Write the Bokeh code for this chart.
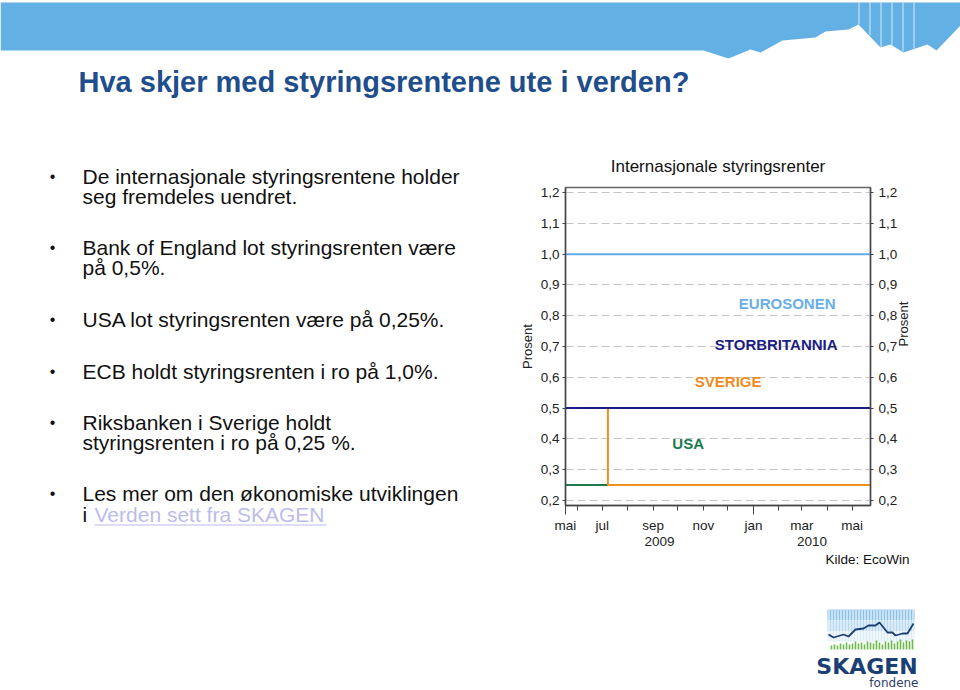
import math
import pandas as pd
from bokeh.plotting import figure
from bokeh.layouts import column, row
from bokeh.models import Range1d, LinearAxis, FixedTicker, Label, Grid
from bokeh.embed import file_html
from bokeh.resources import INLINE

# ---------------- data ----------------
start_date = "2009-05-17 10:00"
end_date = "2010-05-23 08:00"

euro_dates = [start_date, end_date]
euro_rate = [1.0, 1.0]
uk_dates = [start_date, end_date]
uk_rate = [0.5, 0.5]
usa_dates = [start_date, end_date]
usa_rate = [0.25, 0.25]
swe_dates = [start_date, "2009-07-08", end_date]
swe_rate = [0.5, 0.25, 0.25]

y_ticks = [0.2, 0.3, 0.4, 0.5, 0.6, 0.7, 0.8, 0.9, 1.0, 1.1, 1.2]
y_tick_labels = ["0,2", "0,3", "0,4", "0,5", "0,6", "0,7", "0,8", "0,9", "1,0", "1,1", "1,2"]

month_label_dates = [start_date, "2009-07-01", "2009-09-01", "2009-11-01",
                     "2010-01-01", "2010-03-01", "2010-05-01"]
month_labels = ["mai", "jul", "sep", "nov", "jan", "mar", "mai"]
month_tick_dates = ["2009-06-01", "2009-07-01", "2009-08-01", "2009-09-01", "2009-10-01",
                    "2009-11-01", "2009-12-01", "2010-02-01", "2010-03-01", "2010-04-01",
                    "2010-05-01"]
year_bounds = [start_date, "2010-01-01", end_date]
year_labels = ["2009", "2010"]

bullets = [
    ["De internasjonale styringsrentene holder", "seg fremdeles uendret."],
    ["Bank of England lot styringsrenten være", "på 0,5%."],
    ["USA lot styringsrenten være på 0,25%."],
    ["ECB holdt styringsrenten i ro på 1,0%."],
    ["Riksbanken i Sverige holdt", "styringsrenten i ro på 0,25 %."],
    ["Les mer om den økonomiske utviklingen", "i "],
]
link_text = "Verden sett fra SKAGEN"


def ms(d):
    return int(pd.Timestamp(d).value // 1_000_000)


FONT = "Liberation Sans"


def deco(x0, x1, y0, y1):
    """Plain figure whose frame fills the canvas; data units = slide pixels."""
    f = figure(width=x1 - x0, height=y1 - y0, x_axis_type=None, y_axis_type=None,
               toolbar_location=None, output_backend="svg",
               x_range=Range1d(x0, x1), y_range=Range1d(y1, y0), min_border=0)
    f.outline_line_color = None
    f.background_fill_color = "white"
    f.border_fill_color = "white"
    f.grid.visible = False
    return f


def lab(f, x, y, text, size, color="#111111", font=FONT, style="normal",
        align="left", angle=0.0):
    f.add_layout(Label(x=x, y=y, text=text, text_font=font, text_font_size=size,
                       text_color=color, text_font_style=style, text_align=align,
                       text_baseline="middle", angle=angle))


# ---------------- chart ----------------
CX0, CX1, CY0, CY1 = 515, 960, 140, 552
FL, FR, FT, FB = 565, 870, 187, 505

p = figure(width=CX1 - CX0, height=CY1 - CY0, x_axis_type=None, y_axis_type=None,
           toolbar_location=None, output_backend="svg",
           x_range=Range1d(ms(start_date), ms(end_date)),
           y_range=Range1d(0.183, 1.217),
           min_border_left=FL - CX0, min_border_right=CX1 - FR,
           min_border_top=FT - CY0, min_border_bottom=CY1 - FB,
           title="Internasjonale styringsrenter")
p.outline_line_color = "#666666"
p.outline_line_width = 1.3
p.background_fill_color = "white"
p.border_fill_color = "white"
p.title.align = "center"
p.title.text_font = FONT
p.title.text_font_size = "17px"
p.title.text_font_style = "normal"
p.title.text_color = "#111111"
p.title.standoff = 24

AX = "#444444"


def style_y(ax):
    ax.axis_line_color = AX
    ax.axis_line_width = 1.5
    ax.major_tick_line_color = AX
    ax.major_tick_out = 3
    ax.major_tick_in = 0
    ax.minor_tick_line_color = None
    ax.major_label_text_font = FONT
    ax.major_label_text_font_size = "13.5px"
    ax.major_label_text_color = "#222222"
    ax.major_label_standoff = 3
    ax.axis_label = "Prosent"
    ax.axis_label_text_font = FONT
    ax.axis_label_text_font_size = "13px"
    ax.axis_label_text_font_style = "normal"
    ax.axis_label_text_color = "#222222"
    ax.axis_label_standoff = 3


y_over = dict(zip(y_ticks, y_tick_labels))
yl = LinearAxis(ticker=FixedTicker(ticks=y_ticks), major_label_overrides=y_over)
style_y(yl)
p.add_layout(yl, "left")
yr = LinearAxis(ticker=FixedTicker(ticks=y_ticks), major_label_overrides=y_over)
style_y(yr)
yr.major_label_standoff = 5
yr.axis_label_standoff = 3
if "axis_label_orientation" in yr.properties():
    yr.axis_label_orientation = math.pi / 2
p.add_layout(yr, "right")

# x axis 1: axis line, long ticks at year boundaries, short monthly ticks
yb = [ms(d) for d in year_bounds]
x_tick_minor = [ms(d) for d in month_tick_dates]
xa = LinearAxis(ticker=FixedTicker(ticks=yb[:2], minor_ticks=x_tick_minor),
                major_label_overrides={t: "" for t in yb[:2]})
xa.axis_line_color = AX
xa.axis_line_width = 1.5
xa.major_tick_line_color = AX
xa.minor_tick_line_color = AX
xa.major_tick_out = 9
xa.major_tick_in = 0
xa.minor_tick_out = 5
xa.minor_tick_in = 0
xa.major_label_text_font_size = "1px"
xa.major_label_standoff = 0
p.add_layout(xa, "below")

# x axis 2: month names
x_lab = [ms(d) for d in month_label_dates]
xm = LinearAxis(ticker=FixedTicker(ticks=x_lab, minor_ticks=[]),
                major_label_overrides=dict(zip(x_lab, month_labels)))
xm.axis_line_color = None
xm.major_tick_line_color = None
xm.minor_tick_line_color = None
xm.major_tick_out = 0
xm.major_tick_in = 0
xm.major_label_text_font = FONT
xm.major_label_text_font_size = "13.5px"
xm.major_label_text_color = "#222222"
xm.major_label_standoff = 3
p.add_layout(xm, "below")

# x axis 3: years centred on their visible span
year_pos = [(yb[i] + yb[i + 1]) // 2 for i in range(len(year_labels))]
xy = LinearAxis(ticker=FixedTicker(ticks=year_pos, minor_ticks=[]),
                major_label_overrides=dict(zip(year_pos, year_labels)))
xy.axis_line_color = None
xy.major_tick_line_color = None
xy.minor_tick_line_color = None
xy.major_tick_out = 0
xy.major_tick_in = 0
xy.major_label_text_font = FONT
xy.major_label_text_font_size = "13.5px"
xy.major_label_text_color = "#222222"
xy.major_label_standoff = 1
p.add_layout(xy, "below")

p.add_layout(Grid(dimension=1, ticker=FixedTicker(ticks=y_ticks),
                  grid_line_color="#c4c4c4", grid_line_dash="8 4", grid_line_width=1))

p.line([ms(d) for d in usa_dates], usa_rate, line_color="#1e7a4e", line_width=2)
p.step([ms(d) for d in swe_dates], swe_rate, mode="after", line_color="#f0901f", line_width=2)
p.line([ms(d) for d in uk_dates], uk_rate, line_color="#1b1b88", line_width=2)
p.line([ms(d) for d in euro_dates], euro_rate, line_color="#62aee8", line_width=2)

# series names, placed in chart pixel space
p.extra_x_ranges = {"px": Range1d(FL, FR)}
p.extra_y_ranges = {"py": Range1d(FB, FT)}
for tx_, ty_, txt, col in [(786.7, 303, "EUROSONEN", "#68aee8"),
                           (775.7, 344, "STORBRITANNIA", "#1c1c84"),
                           (727.7, 381, "SVERIGE", "#f08c1e"),
                           (687.7, 443, "USA", "#1a7a4a")]:
    p.add_layout(Label(x=tx_, y=ty_, x_range_name="px", y_range_name="py", text=txt,
                       text_font=FONT, text_font_size="15px", text_color=col,
                       text_font_style="bold", text_align="center",
                       text_baseline="middle"))

# ---------------- header ----------------
hd = deco(0, 960, 0, 140)
banner_x = [0, 960, 960, 936, 927, 903, 890, 880, 858, 848, 825, 815, 782, 760, 750, 728, 703, 0]
banner_y = [2, 2, 25, 50, 44, 52, 44, 47, 24, 29, 31, 37, 40, 52, 49, 58, 50, 50]
hd.patch(banner_x, banner_y, fill_color="#62b0e4", line_color=None)
hd.segment(x0=[858.5, 869.5, 880.5, 891.5, 902.5, 913.5], y0=[2] * 6,
           x1=[858.5, 869.5, 880.5, 891.5, 902.5, 913.5], y1=[24, 35, 47, 45, 51, 48],
           line_color="white", line_alpha=0.75, line_width=1)
lab(hd, 78, 81, "Hva skjer med styringsrentene ute i verden?", "29px",
    color="#1f4e8c", style="bold")

# ---------------- bullets ----------------
tx = deco(0, CX0, 140, 690)
line_y = [[176, 196], [247, 267], [319], [371], [422, 442], [493, 514]]
for blines, ys in zip(bullets, line_y):
    lab(tx, 52, ys[0], "•", "16px", color="#111111", align="center")
    for t, yy in zip(blines, ys):
        lab(tx, 82, yy, t, "21px", color="#111111")
lab(tx, 94, 514, link_text, "21px", color="#bcbcec")
tx.segment(x0=[94], y0=[524.5], x1=[326], y1=[524.5], line_color="#bcbcec", line_width=1.2)

# ---------------- source + logo ----------------
bt = deco(CX0, 960, CY1, 690)
lab(bt, 909, 559, "Kilde: EcoWin", "13.5px", color="#111111", align="right")
bt.quad(left=[827, 827, 827], right=[914, 914, 914], top=[609, 620, 631],
        bottom=[620, 631, 641], fill_color=["#8fc4ea", "#b6d9f1", "#dcedf8"],
        line_color=None)
stripe_x = [828.5 + 3 * i for i in range(29)]
bt.segment(x0=stripe_x, y0=[609] * 29, x1=stripe_x, y1=[641] * 29,
           line_color="white", line_width=1)
bar_x = [831 + 3 * i for i in range(28)]
bar_top = [645, 644, 645, 643, 644, 642, 644, 643, 641, 643, 642, 644, 641, 642,
           643, 640, 642, 644, 641, 642, 640, 643, 641, 639, 642, 640, 641, 639]
bt.vbar(x=bar_x, width=1.6, top=bar_top, bottom=649, fill_color="#6cb84a", line_color=None)
nx = [828, 833, 843, 848, 855, 863, 868, 875, 879, 887, 892, 895, 902, 907, 913]
ny = [634, 637, 634, 636, 629, 628, 625, 625, 622, 632, 632, 635, 633, 633, 623]
bt.line(nx, ny, line_color="#1b3f73", line_width=1.8)
lab(bt, 866.5, 666, "SKAGEN", "22px", color="#1b3f73", font="DejaVu Sans", style="bold",
    align="center")
lab(bt, 918, 682, "fondene", "12px", color="#2d3e6b", font="DejaVu Sans", align="right")

right_col = column(row(p, spacing=0), row(bt, spacing=0), spacing=0)
layout = column(hd, row(tx, right_col, spacing=0), spacing=0)
open("out.html", "w").write(file_html(layout, INLINE))
